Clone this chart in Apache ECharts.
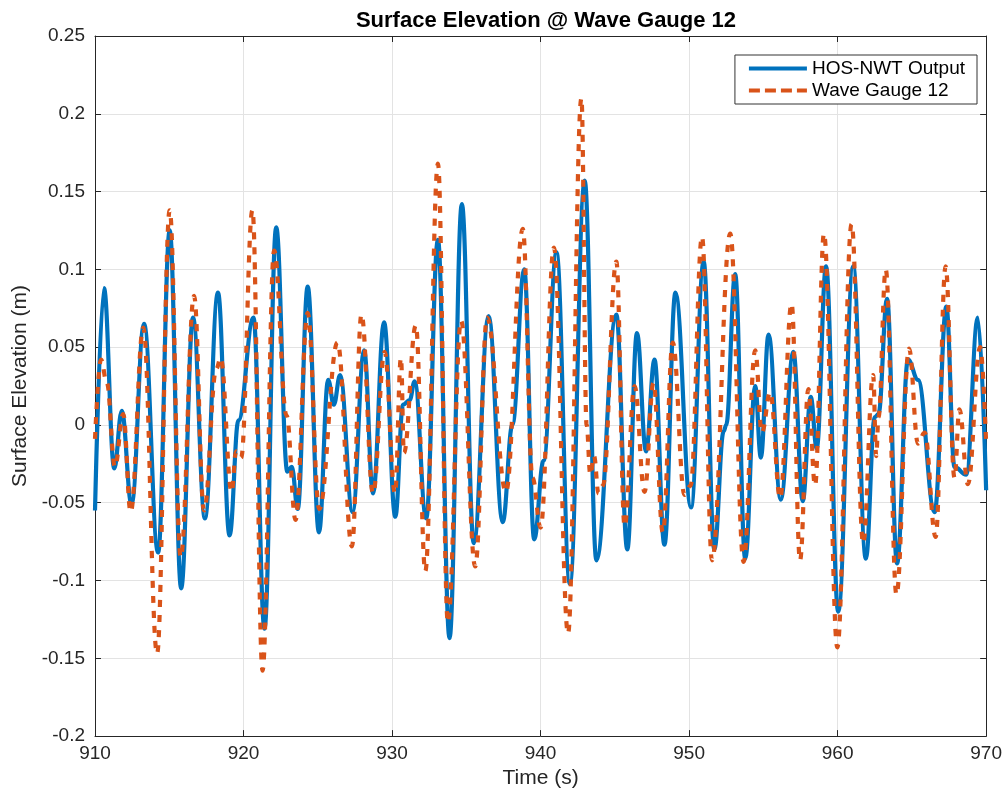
<!DOCTYPE html>
<html>
<head>
<meta charset="utf-8">
<title>Surface Elevation @ Wave Gauge 12</title>
<script src="https://cdn.jsdelivr.net/npm/echarts@6/dist/echarts.min.js"></script>
<style>
    html, body { margin: 0; padding: 0; background: #fff; }
    #chart { width: 1005px; height: 794px; }
</style>
</head>
<body>
<div id="chart"></div>
<script>
// HOS-NWT model output (extrema and shoulders)
var hosTime = [910.0, 910.6, 911.3, 911.8, 912.46, 913.3, 914.25, 915.03, 915.8, 916.6, 917.4, 918.28, 919.06, 919.66,
    920.67, 921.41, 922.2, 922.95, 923.25, 923.65, 924.32, 925.08, 925.7, 926.08, 926.5, 927.34, 928.12, 928.72, 929.46,
    930.22, 930.74, 931.19, 931.52, 932.3, 933.09, 933.87, 934.7, 935.5, 936.5, 937.45, 938.1, 938.9, 939.57,
    940.2, 941.07, 941.97, 942.97, 943.76, 945.1, 945.84, 946.49, 947.1, 947.67, 948.34, 949.08,
    950.13, 950.98, 951.7, 952.33, 952.5, 953.1, 953.78, 954.45, 954.83, 955.35, 956.17, 957.02, 957.65, 958.19, 958.59, 959.22,
    960.04, 961.05, 961.9, 962.5, 962.75, 963.33, 964.0, 964.74, 965.41, 966.53, 967.32, 967.87, 968.66, 969.44, 970.0];
var hosElev = [-0.055, 0.088, -0.028, 0.009, -0.051, 0.065, -0.082, 0.125, -0.105, 0.069, -0.06, 0.085, -0.071, 0.003,
    0.069, -0.131, 0.127, -0.03, -0.027, -0.054, 0.089, -0.069, 0.029, 0.013, 0.032, -0.056, 0.048, -0.044, 0.066,
    -0.059, 0.013, 0.016, 0.028, -0.06, 0.119, -0.137, 0.142, -0.076, 0.07, -0.0625, 0.0, 0.1, -0.0735,
    -0.023, 0.111, -0.102, 0.157, -0.087, 0.071, -0.08, 0.059, -0.017, 0.042, -0.077, 0.085,
    -0.053, 0.105, -0.08, -0.004, 0.0, 0.097, -0.086, 0.025, -0.021, 0.058, -0.048, 0.047, -0.049, 0.018, -0.015, 0.102,
    -0.12, 0.102, -0.086, 0.005, 0.007, 0.081, -0.089, 0.042, 0.029, -0.056, 0.076, -0.027, -0.032, 0.069, -0.042];

// Wave gauge 12 measurement
var gaugeTime = [910.0, 910.4, 910.8, 911.34, 911.9, 912.4, 913.25, 914.18, 915.03, 915.77, 916.67, 917.34, 918.17, 918.46, 919.2, 919.5, 919.84,
    920.6, 921.28, 922.06, 922.9, 923.5, 924.32, 925.1, 926.33, 927.3, 927.94, 928.72, 929.5,
    930.2, 930.6, 930.8, 931.6, 932.24, 933.09, 933.76, 934.65, 935.6, 936.4, 937.67, 938.8, 939.46,
    940.0, 940.9, 941.85, 942.75, 943.1, 943.35, 943.6, 943.9, 944.2, 945.1, 945.66, 946.33, 947.0, 947.6, 948.23, 948.9, 949.69,
    950.1, 950.87, 951.54, 952.77, 953.67, 954.45, 954.9, 955.46, 956.13, 956.9, 957.47, 958.03, 958.48, 959.08, 959.98,
    960.94, 961.72, 962.39, 962.6, 962.75, 963.24, 963.96, 964.81, 965.41, 965.86, 966.6, 967.27, 967.87, 968.2, 968.77, 969.6, 970.0];
var gaugeElev = [-0.009, 0.042, 0.027, -0.027, 0.007, -0.056, 0.0625, -0.147, 0.138, -0.085, 0.083, -0.055, 0.036, 0.043, -0.043, -0.017, -0.021,
    0.138, -0.158, 0.112, 0.006, -0.061, 0.072, -0.054, 0.053, -0.078, 0.071, -0.044, 0.047,
    -0.044, 0.043, -0.018, 0.064, -0.094, 0.168, -0.127, 0.067, -0.091, 0.069, -0.043, 0.126, -0.034,
    -0.066, 0.114, -0.134, 0.21, 0.0, -0.032, -0.02, -0.044, -0.039, 0.105, -0.065, 0.025, -0.043, 0.027, -0.069, 0.053, -0.045,
    -0.039, 0.121, -0.087, 0.123, -0.088, 0.048, -0.005, 0.021, -0.047, 0.078, -0.087, 0.023, -0.039, 0.123, -0.143,
    0.129, -0.076, 0.032, -0.02, 0.005, 0.1, -0.109, 0.049, -0.012, -0.005, -0.072, 0.102, -0.034, 0.01, -0.038, 0.05, -0.012];

var seriesNames = ['HOS-NWT Output', 'Wave Gauge 12'];

function pairs(xs, ys) {
    var out = [];
    for (var i = 0; i < xs.length; i++) {
        out.push([xs[i], ys[i]]);
    }
    return out;
}

var myChart = echarts.init(document.getElementById('chart'));
var font = 'Liberation Sans, Arial, Helvetica, sans-serif';
var ink = '#262626';
var blue = '#0072BD';
var orange = '#D95319';

function fmt(v) {
    return String(parseFloat(v.toFixed(2)));
}

// box ticks, MATLAB style (pointing inwards on all four sides)
var tick = { show: true, inside: true, length: 6, lineStyle: { color: ink } };
var boxLine = { show: true, onZero: false, lineStyle: { color: ink, width: 1 } };
var grey = { show: true, lineStyle: { color: '#e3e3e3', width: 1 } };

var option = {
    backgroundColor: '#fff',
    animation: false,
    textStyle: { fontFamily: font },
    title: {
        text: 'Surface Elevation @ Wave Gauge 12',
        left: 541,
        textAlign: 'center',
        top: 5,
        textStyle: { fontFamily: font, fontSize: 22, fontWeight: 'bold', color: '#000' }
    },
    grid: { left: 95, right: 17, top: 36, bottom: 56, containLabel: false },
    legend: {
        right: 28,
        top: 55,
        orient: 'vertical',
        backgroundColor: '#fff',
        borderColor: '#333',
        borderWidth: 1,
        borderRadius: 0,
        padding: [4, 12, 4, 12],
        itemGap: 3,
        itemWidth: 58,
        itemHeight: 20,
        itemTextGap: 8,
        itemStyle: { opacity: 0, color: 'transparent', borderColor: 'transparent' },
        textStyle: { fontFamily: font, fontSize: 19, color: '#000' },
        data: [
            { name: seriesNames[0], lineStyle: { width: 4 } },
            { name: seriesNames[1], lineStyle: { width: 4, type: [11, 5] } }
        ]
    },
    xAxis: [{
        type: 'value',
        min: 910,
        max: 970,
        interval: 10,
        name: 'Time (s)',
        nameLocation: 'middle',
        nameGap: 30,
        nameTextStyle: { fontFamily: font, fontSize: 21, color: ink },
        axisLine: boxLine,
        axisTick: tick,
        axisLabel: { fontFamily: font, fontSize: 19, color: ink, margin: 8 },
        splitLine: grey
    }, {
        type: 'value',
        position: 'top',
        min: 910,
        max: 970,
        interval: 10,
        axisLine: boxLine,
        axisTick: tick,
        axisLabel: { show: false },
        splitLine: { show: false }
    }],
    yAxis: [{
        type: 'value',
        min: -0.2,
        max: 0.25,
        interval: 0.05,
        name: 'Surface Elevation (m)',
        nameLocation: 'middle',
        nameGap: 63,
        nameTextStyle: { fontFamily: font, fontSize: 21, color: ink },
        axisLine: boxLine,
        axisTick: tick,
        axisLabel: { fontFamily: font, fontSize: 19, color: ink, margin: 10, formatter: fmt },
        splitLine: grey
    }, {
        type: 'value',
        position: 'right',
        min: -0.2,
        max: 0.25,
        interval: 0.05,
        axisLine: boxLine,
        axisTick: tick,
        axisLabel: { show: false },
        splitLine: { show: false }
    }],
    series: [{
        name: seriesNames[0],
        type: 'line',
        data: pairs(hosTime, hosElev),
        smooth: 0.4,
        smoothMonotone: 'x',
        symbol: 'none',
        color: blue,
        lineStyle: { color: blue, width: 4.2 },
        z: 2
    }, {
        name: seriesNames[1],
        type: 'line',
        data: pairs(gaugeTime, gaugeElev),
        smooth: 0.4,
        smoothMonotone: 'x',
        symbol: 'none',
        color: orange,
        lineStyle: { color: orange, width: 4.2, type: [7, 8] },
        z: 3
    }]
};

option && myChart.setOption(option);
</script>
</body>
</html>
